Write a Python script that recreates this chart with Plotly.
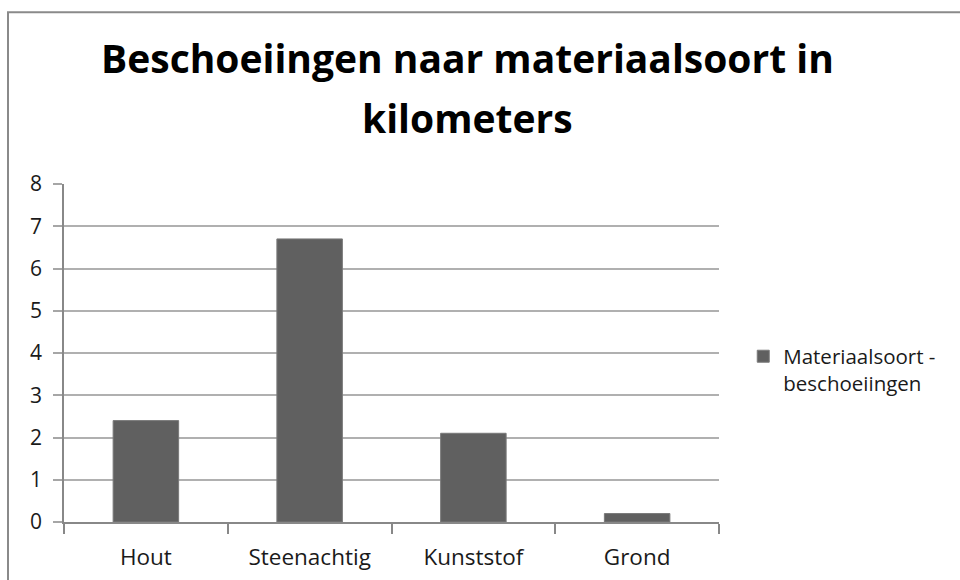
import plotly.graph_objects as go

categories = ["Hout", "Steenachtig", "Kunststof", "Grond"]
values = [2.4, 6.7, 2.1, 0.2]
series_name = "Materiaalsoort -<br>beschoeiingen"
title_line1 = "Beschoeiingen naar materiaalsoort in"
title_line2 = "kilometers"
y_ticks = [0, 1, 2, 3, 4, 5, 6, 7, 8]

FONT = "Open Sans"

fig = go.Figure()
fig.add_trace(go.Bar(
    x=categories, y=values, name=series_name,
    marker=dict(color="#606060", line=dict(color="#7a7a7a", width=1)),
    showlegend=True,
))

fig.update_layout(
    width=960, height=580,
    margin=dict(l=64, r=241, t=184, b=58, autoexpand=False),
    paper_bgcolor="white", plot_bgcolor="white",
    bargap=0.6,
    font=dict(family=FONT, size=20, color="#1a1a1a"),
    showlegend=True,
    legend=dict(x=1.037, y=0.45, xanchor="left", yanchor="middle",
                valign="top", font=dict(family=FONT, size=20.5, color="#1a1a1a"),
                bgcolor="rgba(0,0,0,0)", itemwidth=30, tracegroupgap=0),
    xaxis=dict(type="category", tickson="boundaries", ticks="outside", ticklen=10,
               tickcolor="#888888", tickwidth=1.5, showline=True, linecolor="#888888",
               linewidth=1.5, showgrid=False, tickfont=dict(size=22.5), range=[-0.5, 3.5],
               ticklabelstandoff=14, fixedrange=True),
    yaxis=dict(range=[0, 8], tickvals=y_ticks, ticks="outside", ticklen=9,
               tickcolor="#a6a6a6", tickwidth=1.5, showline=True, linecolor="#888888",
               linewidth=1.5, showgrid=True, gridcolor="#b0b0b0", gridwidth=1.5,
               zeroline=False, tickfont=dict(size=21), ticklabelstandoff=7,
               fixedrange=True),
    annotations=[
        dict(text="<b>" + title_line1 + "</b>", xref="paper", yref="paper",
             x=0.6165, y=1.375, xanchor="center", yanchor="middle", showarrow=False,
             font=dict(family=FONT, size=39, color="#000000")),
        dict(text="<b>" + title_line2 + "</b>", xref="paper", yref="paper",
             x=0.6165, y=1.198, xanchor="center", yanchor="middle", showarrow=False,
             font=dict(family=FONT, size=39, color="#000000")),
    ],
    shapes=[
        dict(type="rect", xref="paper", yref="paper",
             x0=(8 - 64) / 655, x1=(975 - 64) / 655,
             y0=(522.5 - 600) / 338.5, y1=(522.5 - 12) / 338.5,
             line=dict(color="#8a8a8a", width=2), fillcolor="rgba(0,0,0,0)", layer="below"),
    ],
)

fig.write_html("out.html", config={"displayModeBar": False},
               post_script="document.body.style.margin='0';document.body.style.overflow='hidden';")
